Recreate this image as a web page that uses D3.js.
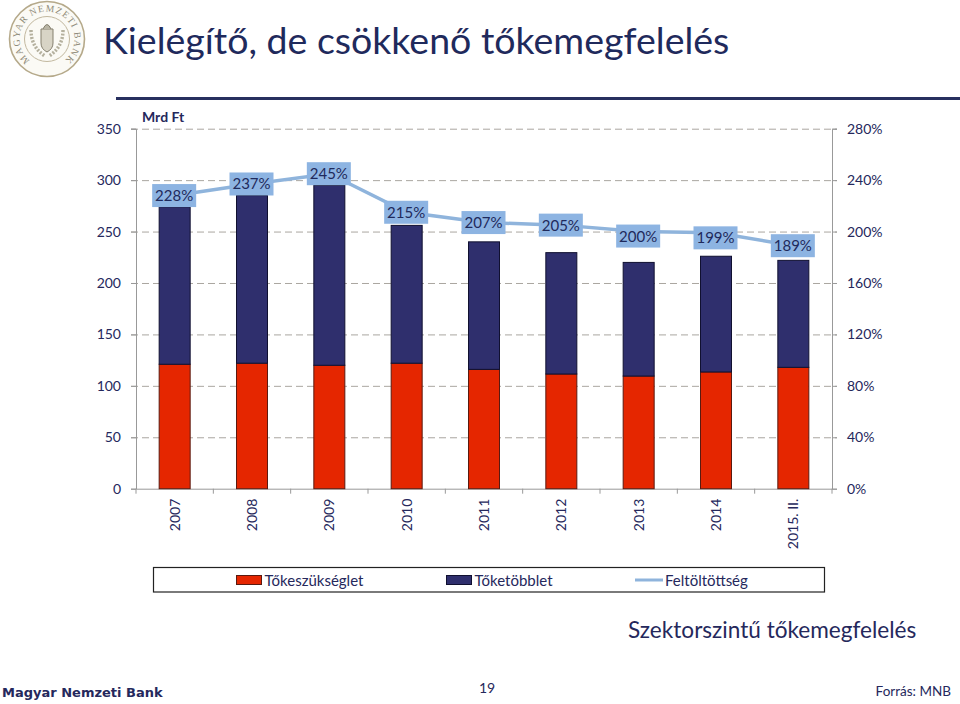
<!DOCTYPE html>
<html><head><meta charset="utf-8">
<script src="https://cdn.jsdelivr.net/npm/d3@7"></script>
<style>
html,body{margin:0;padding:0;background:#fff}
svg{display:block}
text{font-family:Lato,"Open Sans",sans-serif;fill:#25285c}
</style></head><body><svg id="c" width="960" height="704"></svg>
<script>
const categories=["2007","2008","2009","2010","2011","2012","2013","2014","2015. II."];
const need=[121,122,120,122,116,111.5,109.5,113.5,118];
const surplus=[153,163,175,134,124,118,110.5,112.5,104];
const fill=[228,237,245,215,207,205,200,199,189];
const leftTicks=[0,50,100,150,200,250,300,350];
const rightTicks=[0,40,80,120,160,200,240,280];
const title="Kielégítő, de csökkenő tőkemegfelelés";

const svg=d3.select("#c");
const L=136,R=832,T=128.7,B=488.7;
const x=d3.scaleBand().domain(categories).range([L,R]);
const y=d3.scaleLinear().domain([0,350]).range([B,T]);
const y2=d3.scaleLinear().domain([0,280]).range([B,T]);
const barW=31;

// logo
const logo=svg.append("g").attr("transform","translate(47,39)");
logo.append("circle").attr("r",37.5).attr("fill","#fbfaf5").attr("stroke","#b5a98a").attr("stroke-width",1.6);
logo.append("circle").attr("r",22.5).attr("fill","none").attr("stroke","#c2b89f").attr("stroke-width",1);
svg.append("defs").append("path").attr("id","arc").attr("d","M 0 27.5 A 27.5 27.5 0 1 1 0.01 27.5");
logo.append("text").append("textPath").attr("href","#arc").attr("startOffset","50%").attr("text-anchor","middle")
  .style("font-family","Liberation Serif").style("font-size","9.5px").style("letter-spacing","1.1px").style("fill","#8f8a78")
  .text("MAGYAR NEMZETI BANK");
logo.append("path").attr("d","M-6 -10 H6 V4 Q6 10 0 13 Q-6 10 -6 4 Z").attr("fill","#d8d4c6").attr("stroke","#85806f");
logo.append("path").attr("d","M-4 -10 Q0 -19 4 -10").attr("fill","#b9b5a4").attr("stroke","#85806f");
logo.append("path").attr("d","M-16 -9 Q-16 8 -2 17 M16 -9 Q16 8 2 17").attr("fill","none").attr("stroke","#b5b19f").attr("stroke-width",3.5).attr("stroke-dasharray","2 1.5");

// header
svg.append("text").attr("x",103).attr("y",54).style("font-size","37.5px").style("fill","#1f2a5c").text(title);
svg.append("rect").attr("x",116).attr("y",97).attr("width",844).attr("height",3).attr("fill","#28305f");
svg.append("text").attr("x",142).attr("y",122).style("font-size","14px").style("font-weight","700").text("Mrd Ft");

// grid
svg.append("g").selectAll("line").data(leftTicks.filter(d=>d>0)).join("line")
  .attr("x1",L-5).attr("x2",R+5).attr("y1",d=>y(d)+.5).attr("y2",d=>y(d)+.5)
  .attr("stroke","#aaa6a0").attr("stroke-width",1).attr("stroke-dasharray","7 4");

// axes
const styleAxis=g=>{g.selectAll(".domain").attr("stroke","#999");g.selectAll(".tick line").attr("stroke","#999");
  g.selectAll("text").style("font-size","14px").style("font-family","Lato").attr("fill","#25285c");};
svg.append("g").attr("transform",`translate(${L},0)`)
  .call(d3.axisLeft(y).tickValues(leftTicks).tickSize(5).tickPadding(10)).call(styleAxis);
svg.append("g").attr("transform",`translate(${R},0)`)
  .call(d3.axisRight(y2).tickValues(rightTicks).tickSize(5).tickPadding(10).tickFormat(d=>d+"%")).call(styleAxis);
const xa=svg.append("g").attr("transform",`translate(0,${B})`)
  .call(d3.axisBottom(x).tickSize(0).tickPadding(10)).call(styleAxis);
xa.selectAll(".tick text").attr("transform","rotate(-90)").attr("text-anchor","end").attr("x",-10).attr("y",0).attr("dy","0.35em");
svg.append("g").attr("transform",`translate(0,${B})`).selectAll("line").data(d3.range(0,categories.length+1)).join("line")
  .attr("x1",i=>L+i*x.step()).attr("x2",i=>L+i*x.step()).attr("y1",0).attr("y2",5).attr("stroke","#999");

// bars
const bars=svg.append("g");
bars.selectAll(".n").data(categories).join("rect").attr("class","n")
  .attr("x",d=>x(d)+x.bandwidth()/2-barW/2).attr("width",barW)
  .attr("y",(d,i)=>y(need[i])).attr("height",(d,i)=>B-y(need[i]))
  .attr("fill","#e52600").attr("stroke","#5a1a10").attr("stroke-width",1);
bars.selectAll(".s").data(categories).join("rect").attr("class","s")
  .attr("x",d=>x(d)+x.bandwidth()/2-barW/2).attr("width",barW)
  .attr("y",(d,i)=>y(need[i]+surplus[i])).attr("height",(d,i)=>y(need[i])-y(need[i]+surplus[i]))
  .attr("fill","#2f2f6d").attr("stroke","#101030").attr("stroke-width",1);

// line + labels (the 200% and 199% labels sit a little below their points in the original)
const cx=d=>x(d)+x.bandwidth()/2;
const labelShift=d=>d==="2013"?4.5:d==="2014"?5:0;
svg.append("path").datum(categories)
  .attr("d",d3.line().x(cx).y((d,i)=>y2(fill[i])))
  .attr("fill","none").attr("stroke","#8fb4dc").attr("stroke-width",3.5);
const lab=svg.append("g").selectAll("g").data(categories).join("g")
  .attr("transform",(d,i)=>`translate(${cx(d)-0.5},${y2(fill[i])+labelShift(d)})`);
lab.append("rect").attr("x",-22).attr("y",-11.5).attr("width",44).attr("height",23).attr("fill","#8db4e2");
lab.append("text").attr("text-anchor","middle").attr("y",5.5).style("font-size","15px").style("fill","#1f2a5c").text((d,i)=>fill[i]+"%");

// legend
const leg=svg.append("g");
leg.append("rect").attr("x",153.5).attr("y",567.5).attr("width",671).attr("height",24.5).attr("fill","#fff").attr("stroke","#222").attr("stroke-width",1.2);
leg.append("rect").attr("x",236.5).attr("y",575.5).attr("width",25).attr("height",9).attr("fill","#e52600").attr("stroke","#5a1a10");
leg.append("text").attr("x",264.5).attr("y",586).style("font-size","15px").text("Tőkeszükséglet");
leg.append("rect").attr("x",446.5).attr("y",575.5).attr("width",25).attr("height",9).attr("fill","#2f2f6d").attr("stroke","#101030");
leg.append("text").attr("x",474.5).attr("y",586).style("font-size","15px").text("Tőketöbblet");
leg.append("line").attr("x1",635).attr("x2",663).attr("y1",580).attr("y2",580).attr("stroke","#8fb4dc").attr("stroke-width",3);
leg.append("text").attr("x",665).attr("y",586).style("font-size","15px").text("Feltöltöttség");

// footer
svg.append("text").attr("x",628).attr("y",638).style("font-size","22.6px").text("Szektorszintű tőkemegfelelés");
svg.append("text").attr("x",2).attr("y",697).style("font-family","DejaVu Sans").style("font-weight","700").style("font-size","13px").text("Magyar Nemzeti Bank");
svg.append("text").attr("x",487).attr("y",693).attr("text-anchor","middle").style("font-size","14px").text("19");
svg.append("text").attr("x",951).attr("y",696).attr("text-anchor","end").style("font-size","13.5px").text("Forrás: MNB");
</script></body></html>
